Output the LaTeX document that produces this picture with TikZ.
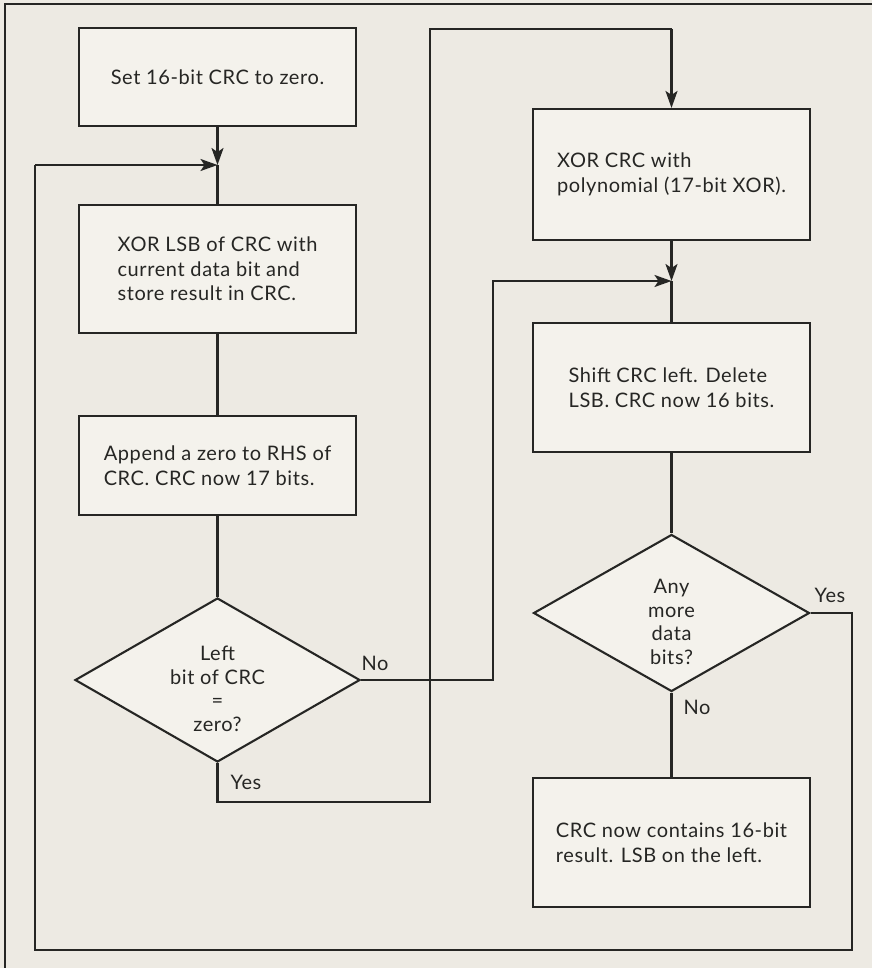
\documentclass[tikz,border=0pt]{standalone}
\usepackage{fontspec}
\setmainfont[LetterSpace=3]{Lato}
\usetikzlibrary{shapes.geometric,arrows.meta}
\definecolor{paper}{HTML}{EDEAE3}
\definecolor{boxfill}{HTML}{F4F2EC}
\definecolor{ink}{HTML}{262624}
\tikzset{
  flow/.style={line width=2.1pt, draw=ink},
  procbox/.style={flow, rectangle, fill=boxfill, inner sep=0pt, align=left,
    text=ink, font=\fontsize{20}{24.5}\selectfont, minimum width=277pt},
  decision/.style={flow, diamond, fill=boxfill, inner sep=0pt},
  decisiontext/.style={align=center, text=ink, font=\fontsize{20}{23.5}\selectfont},
  branch/.style={text=ink, font=\fontsize{20}{22}\selectfont},
  wire/.style={flow, line join=miter},
  arrowwire/.style={wire, -{Stealth[length=17pt, width=12pt, inset=4pt]}},
}
\begin{document}
\begin{tikzpicture}[x=1pt, y=-1pt]
  % page area and its cropped frame edges
  \fill[paper] (0,0) rectangle (872,968);
  \useasboundingbox (0,0) rectangle (872,968);
  \draw[flow] (872,4) -- (5,4) -- (5,968);

  % left column
  \node[procbox, minimum height=98pt] (set) at (217.5,77) {Set 16-bit CRC to zero.};
  \coordinate (j1) at (217.5,165);
  \node[procbox, minimum height=128pt] (xorlsb) at (217.5,269)
    {XOR LSB of CRC with\\current data bit and\\store result in CRC.};
  \node[procbox, minimum height=99pt] (append) at (217.5,465.5)
    {Append a zero to RHS of\\CRC. CRC now 17 bits.};
  \node[decision, minimum width=285pt, minimum height=164pt] (left) at (217.5,680) {};
  \node[decisiontext] (lefttext) at (217.5,689) {Left\\bit of CRC\\=\\zero?};

  % right column
  \node[procbox, minimum height=131pt] (xorpoly) at (671.5,174.5)
    {XOR CRC with\\polynomial (17-bit XOR).};
  \coordinate (j2) at (671.5,281);
  \node[procbox, minimum height=129pt] (shift) at (671.5,387.5)
    {Shift CRC left. Delete\\LSB. CRC now 16 bits.};
  \node[decision, minimum width=276pt, minimum height=157pt] (more) at (671.5,613) {};
  \node[decisiontext] (moretext) at (671.5,622) {Any\\more\\data\\bits?};
  \node[procbox, minimum height=129pt] (result) at (671.5,842.5)
    {CRC now contains 16-bit\\result. LSB on the left.};

  % route corners
  \coordinate (noA) at (493,680);
  \coordinate (noB) at (493,281);
  \coordinate (yesA) at (217.5,802);
  \coordinate (yesB) at (430,802);
  \coordinate (yesC) at (430,29);
  \coordinate (yesD) at (671.5,29);
  \coordinate (loopA) at (852,613);
  \coordinate (loopB) at (852,950);
  \coordinate (loopC) at (35,950);
  \coordinate (loopD) at (35,165);

  % connectors
  \draw[arrowwire] (set.south) -- (j1);
  \draw[wire] (j1) -- (xorlsb.north);
  \draw[wire] (xorlsb.south) -- (append.north);
  \draw[wire] (append.south) -- (left.north);
  \draw[arrowwire] (left.east) -- (noA) -- (noB) -- (j2);
  \draw[wire] (left.south) -- (yesA) -- (yesB) -- (yesC) -- (yesD);
  \draw[arrowwire] (yesD) -- (xorpoly.north);
  \draw[arrowwire] (xorpoly.south) -- (j2);
  \draw[wire] (j2) -- (shift.north);
  \draw[wire] (shift.south) -- (more.north);
  \draw[wire] (more.south) -- (result.north);
  \draw[wire] (more.east) -- (loopA) -- (loopB) -- (loopC) -- (loopD);
  \draw[arrowwire] (loopD) -- (j1);

  % branch labels
  \node[branch] (nolabel1) at (375,663) {No};
  \node[branch] (yeslabel1) at (246,782) {Yes};
  \node[branch] (yeslabel2) at (830,595) {Yes};
  \node[branch] (nolabel2) at (697,707) {No};
\end{tikzpicture}
\end{document}
